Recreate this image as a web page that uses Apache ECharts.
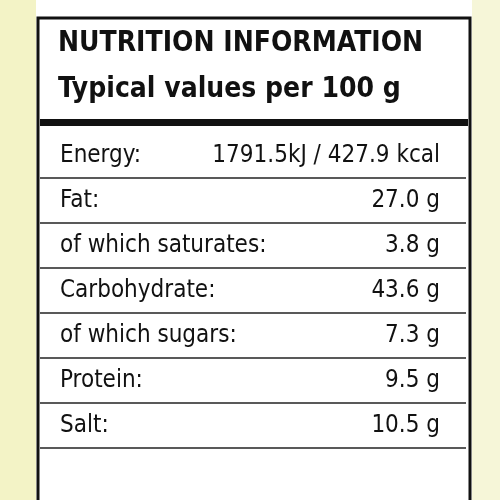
<!DOCTYPE html>
<html><head><meta charset="utf-8">
<script src="https://cdn.jsdelivr.net/npm/echarts@6/dist/echarts.min.js"></script>
<style>html,body{margin:0;background:#fff}#c{width:500px;height:500px}</style>
</head><body><div id="c"></div>
<script>
const titleLines = ['NUTRITION INFORMATION', 'Typical values per 100 g'];
const nutrients = ['Energy:', 'Fat:', 'of which saturates:', 'Carbohydrate:', 'of which sugars:', 'Protein:', 'Salt:'];
const amounts = ['1791.5kJ / 427.9 kcal', '27.0 g', '3.8 g', '43.6 g', '7.3 g', '9.5 g', '10.5 g'];

const FONT = '"DejaVu Sans Condensed", "Liberation Sans", sans-serif';
const chart = echarts.init(document.getElementById('c'));

chart.setOption({
    backgroundColor: '#ffffff',
    grid: { left: 40, right: 34, top: 133, bottom: 52 },
    xAxis: { type: 'value', min: 0, max: 1, show: false },
    yAxis: { type: 'category', data: nutrients, inverse: true, show: false },
    graphic: [
        // pale yellow edges of the pack
        { type: 'rect', shape: { x: 0, y: 0, width: 36, height: 500 }, style: { fill: '#f3f3c6' }, z: -1 },
        { type: 'rect', shape: { x: 472, y: 0, width: 28, height: 500 }, style: { fill: '#f6f6d8' }, z: -1 },
        { type: 'rect', shape: { x: 38, y: 18, width: 432, height: 490 }, style: { fill: '#fff', stroke: '#111', lineWidth: 3 } },
        { type: 'text', left: 58, top: 30, style: { text: titleLines[0], font: 'bold 28px ' + FONT, fill: '#111' } },
        { type: 'text', left: 58, top: 76, style: { text: titleLines[1], font: 'bold 28px ' + FONT, fill: '#111' } },
        { type: 'rect', shape: { x: 40, y: 119, width: 428, height: 7 }, style: { fill: '#111' } }
    ],
    series: [{
        type: 'custom',
        data: nutrients.map((n, i) => [0, i]),
        renderItem: function (params, api) {
            const i = api.value(1);
            const left = api.coord([0, i]);
            const right = api.coord([1, i]);
            const h = api.size([0, 1])[1];
            const yBottom = left[1] + h / 2;
            return {
                type: 'group',
                children: [
                    { type: 'text', style: { x: left[0] + 20, y: left[1], text: nutrients[i], font: '24px ' + FONT, fill: '#111', verticalAlign: 'middle' } },
                    { type: 'text', style: { x: right[0] - 26, y: left[1], text: amounts[i], font: '24px ' + FONT, fill: '#111', align: 'right', verticalAlign: 'middle' } },
                    { type: 'line', shape: { x1: left[0], y1: yBottom, x2: right[0], y2: yBottom }, style: { stroke: '#222', lineWidth: 1.5 } }
                ]
            };
        }
    }]
});
</script>
</body></html>
